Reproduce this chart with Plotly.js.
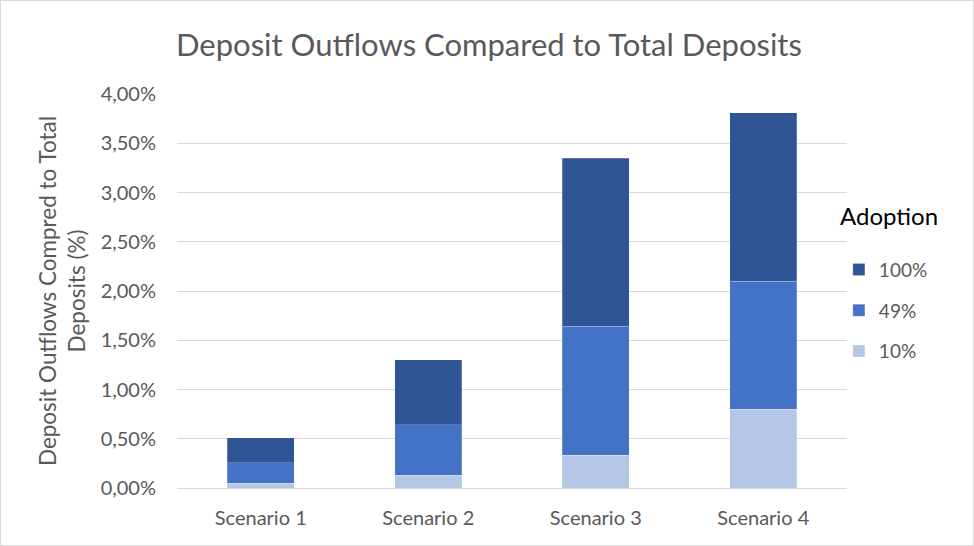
<!DOCTYPE html>
<html>
<head>
<meta charset="utf-8">
<script src="https://cdn.plot.ly/plotly-3.0.1.min.js"></script>
<style>
html,body{margin:0;padding:0;background:#fff;}
#chart{width:972px;height:544px;border:1px solid #d9d9d9;}
</style>
</head>
<body>
<div id="chart"></div>
<script>
const categories = ["Scenario 1", "Scenario 2", "Scenario 3", "Scenario 4"];
const seriesNames = ["10%", "49%", "100%"];
const adoption10 = [0.05, 0.13, 0.335, 0.80];
const adoption49 = [0.205, 0.51, 1.305, 1.30];
const adoption100 = [0.253, 0.66, 1.71, 1.71];
const yTickValues = [0, 0.5, 1, 1.5, 2, 2.5, 3, 3.5, 4];
const yTickLabels = ["0,00%", "0,50%", "1,00%", "1,50%", "2,00%", "2,50%", "3,00%", "3,50%", "4,00%"];
const colors = ["#b4c7e7", "#4472c4", "#2f5597"];

const allValues = [adoption10, adoption49, adoption100];
const traces = allValues.map((vals, i) => ({
  type: "bar",
  name: seriesNames[i],
  x: categories,
  y: vals,
  legendgroup: "g" + i,
  legendrank: 3 - i,
  marker: {color: colors[i], line: {color: "rgba(255,255,255,0.35)", width: 0.6}},
  hoverinfo: "skip"
}));

const font = "Lato, 'Open Sans', sans-serif";
const layout = {
  width: 972,
  height: 544,
  barmode: "stack",
  bargap: 0.6,
  paper_bgcolor: "#fff",
  plot_bgcolor: "#fff",
  margin: {l: 176, r: 126, t: 93, b: 57, autoexpand: false},
  font: {family: font, color: "#595959"},
  title: {
    text: "Deposit Outflows Compared to Total Deposits",
    font: {family: font, size: 31, color: "#595959"},
    x: 0.502, xanchor: "center", xref: "container",
    y: 0.918, yanchor: "middle", yref: "container"
  },
  xaxis: {
    tickfont: {size: 20, color: "#595959"},
    showline: false,
    showgrid: false,
    ticks: "",
    ticklabelstandoff: 16
  },
  yaxis: {
    range: [0, 4],
    tickvals: yTickValues,
    ticktext: yTickLabels,
    tickfont: {size: 20, color: "#595959"},
    gridcolor: "#d9d9d9",
    gridwidth: 1,
    zeroline: true,
    zerolinecolor: "#d9d9d9",
    zerolinewidth: 1,
    showline: false,
    ticks: "",
    ticklabelstandoff: 20,
    title: {
      text: "Deposit Outflows Compred to Total<br>Deposits (%)",
      font: {size: 22.5, color: "#595959"},
      standoff: 8
    }
  },
  annotations: [{
    text: "Adoption",
    xref: "paper", yref: "paper",
    x: (837 - 176) / 670, xanchor: "left",
    y: (487 - 214) / 394, yanchor: "middle",
    showarrow: false,
    font: {family: font, size: 24, color: "#000"}
  }],
  showlegend: true,
  legend: {
    traceorder: "grouped",
    tracegroupgap: 13,
    font: {size: 19, color: "#595959"},
    xref: "container", yref: "container",
    x: 0.862, xanchor: "left",
    y: 0.541, yanchor: "top",
    bgcolor: "rgba(0,0,0,0)",
    itemwidth: 30
  }
};

Plotly.newPlot("chart", traces, layout, {displayModeBar: false, staticPlot: true});
</script>
</body>
</html>
